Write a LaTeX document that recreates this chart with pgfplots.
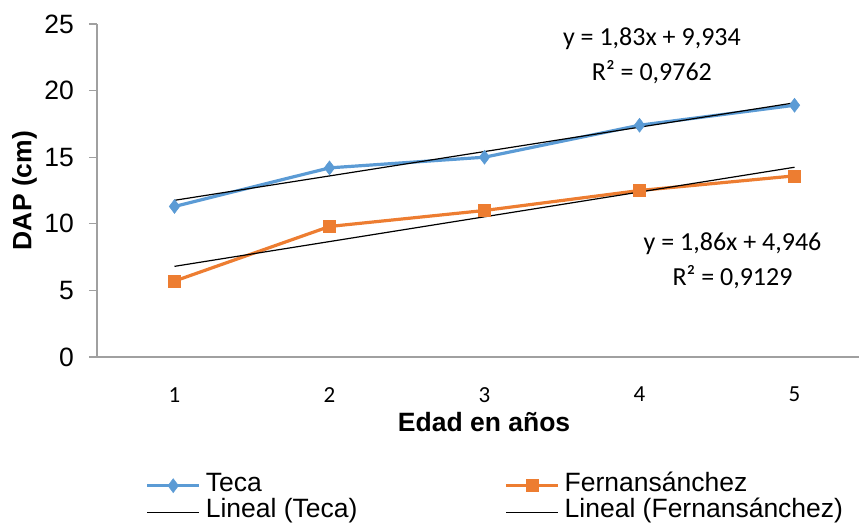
\documentclass[border=0pt]{standalone}
\usepackage{pgfplots}
\pgfplotsset{compat=1.18}
\usepackage{fontspec}
\setmainfont{Liberation Sans}
\newfontfamily\calibri{Carlito}
\definecolor{tecablue}{HTML}{5B9BD5}
\definecolor{fernorange}{HTML}{ED7D31}
\definecolor{axgray}{HTML}{A0A0A0}
\begin{document}
\begin{tikzpicture}
\begin{axis}[
  at={(0pt,0pt)}, anchor=south west,
  scale only axis, width=762pt, height=333pt,
  xmin=0.5, xmax=5.416, ymin=0, ymax=25,
  axis x line=bottom, axis y line=left,
  axis line style={-, draw=axgray, line width=1.2pt},
  xtick={1,2,3,4,5}, xticklabels={1,2,3,4,5},
  xtick style={draw=none},
  ytick={0,5,10,15,20,25},
  ytick style={draw=axgray, line width=1.2pt},
  tick align=outside, major tick length=8pt,
  /pgf/number format/assume math mode=true,
  yticklabel style={font=\fontsize{26.5}{28}\selectfont, inner sep=0pt, anchor=east, xshift=-15pt},
  xticklabel style={font=\calibri\fontsize{23}{25}\selectfont, inner sep=0pt, anchor=north, yshift=-22pt},
  xlabel={\textbf{Edad en años}},
  ylabel={\textbf{DAP (cm)}},
  label style={font=\fontsize{26.5}{28}\selectfont},
  xlabel style={at={(axis description cs:0.508,-0.195)}, anchor=center},
  ylabel style={at={(axis description cs:-0.095,0.5)}, anchor=center, rotate=0},
  clip=false,
  legend columns=2,
  legend cell align=left,
  legend image code/.code={\draw[mark repeat=2,mark phase=2,#1] plot coordinates {(0pt,0pt) (26pt,0pt) (52pt,0pt)};},
  legend style={draw=none, fill=none, font=\fontsize{26.5}{28}\selectfont,
    at={(axis description cs:0.0635,-0.346)}, anchor=north west,
    inner sep=0pt, row sep=0pt,
    nodes={inner sep=0pt, text height=19pt, text depth=7.5pt},
    /tikz/every odd column/.append style={column sep=5pt},
    /tikz/every even column/.append style={column sep=147pt}},
]
\addplot[tecablue, line width=3.2pt, mark=diamond*, mark size=7pt, mark options={solid, fill=tecablue, draw=tecablue, line width=0.5pt}]
  coordinates {(1,11.3) (2,14.2) (3,15.0) (4,17.4) (5,18.9)};
\addlegendentry{Teca}
\addplot[fernorange, line width=3.2pt, mark=square*, mark size=6pt, mark options={solid, fill=fernorange, draw=fernorange, line width=0.5pt}]
  coordinates {(1,5.7) (2,9.8) (3,11.0) (4,12.5) (5,13.6)};
\addlegendentry{Fernansánchez}
\addplot[black, line width=1.2pt, mark=none]
  coordinates {(1,11.764) (5,19.084)};
\addlegendentry{Lineal (Teca)}
\addplot[black, line width=1.2pt, mark=none]
  coordinates {(1,6.806) (5,14.246)};
\addlegendentry{Lineal (Fernansánchez)}
\node[align=center, font=\calibri\fontsize{26}{35}\selectfont, inner sep=0pt] at (axis cs:4.08,22.6) {y = 1,83x + 9,934\\R² = 0,9762};
\node[align=center, font=\calibri\fontsize{26}{35}\selectfont, inner sep=0pt] at (axis cs:4.60,7.2) {y = 1,86x + 4,946\\R² = 0,9129};
\end{axis}
\pgfresetboundingbox
\path (-97pt,-166pt) rectangle (762pt,357pt);
\end{tikzpicture}
\end{document}
